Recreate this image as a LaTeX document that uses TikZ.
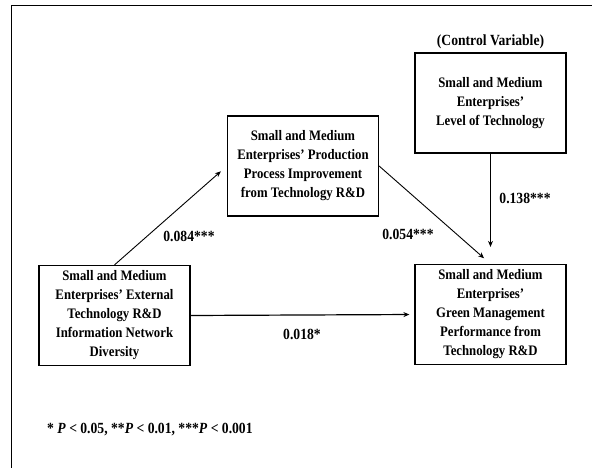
\documentclass[tikz,border=0pt]{standalone}
\usepackage{fontspec}
\setmainfont{Liberation Serif}
\newfontfamily\narrowserif[FakeStretch=0.88]{Liberation Serif}
\usetikzlibrary{arrows.meta,positioning}

\tikzset{
  varbox/.style={draw, line width=1.2pt, minimum width=151pt, minimum height=100pt, inner sep=0pt, align=center, font=\narrowserif\fontsize{14.5}{19}\selectfont\bfseries},
  coef/.style={inner sep=0pt, font=\narrowserif\fontsize{15.5}{17}\selectfont\bfseries},
  path/.style={-{Stealth[length=6pt,width=5pt]}, line width=0.9pt}
}

\begin{document}
\begin{tikzpicture}[x=1pt,y=-1pt]
  \useasboundingbox (0,0) rectangle (592,468);

  %% Frame
  \draw[line width=0.9pt] (592,5) -- (11,5) -- (11,468);

  %% Variable boxes
  \node[varbox] (ext)   at (114.5,315.5) {Small and Medium\\Enterprises’ External\\Technology R\&D\\Information Network\\Diversity};
  \node[varbox] (mid)   at (303,166)     {Small and Medium\\Enterprises’ Production\\Process Improvement\\from Technology R\&D};
  \node[varbox] (ctrl)  at (490.5,103)   {Small and Medium\\Enterprises’\\Level of Technology};
  \node[varbox] (green) at (490.5,314.5) {Small and Medium\\Enterprises’\\Green Management\\Performance from\\Technology R\&D};
  \node[coef, above=3pt of ctrl] (ctrllabel) {(Control Variable)};

  %% Paths
  \draw[path, shorten >=8pt]  (ext.north) -- (mid.west);
  \draw[path, shorten >=8.5pt] (mid.east)  -- (green.north);
  \draw[path, shorten >=17pt] (ctrl.south) -- (green.north);
  \draw[path, line width=1.2pt, shorten >=5pt] (ext.east) -- (green.west);

  %% Coefficients
  \node[coef] (c1) at (189,236) {0.084***};
  \node[coef] (c2) at (408,234) {0.054***};
  \node[coef] (c3) at (525,198) {0.138***};
  \node[coef] (c4) at (302,334) {0.018*};

  %% Note
  \node[coef, anchor=west] (note) at (47,430) {* \textit{P} < 0.05, **\textit{P} < 0.01, ***\textit{P} < 0.001};
\end{tikzpicture}
\end{document}
